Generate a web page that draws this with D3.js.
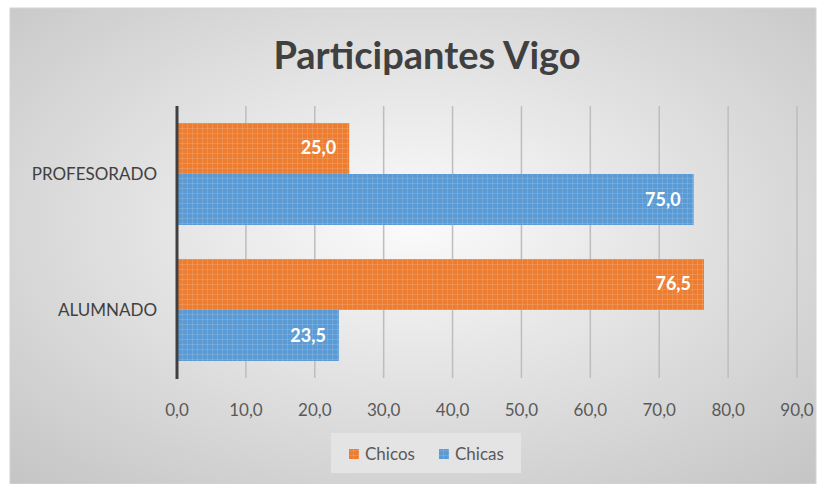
<!DOCTYPE html>
<html>
<head>
<meta charset="utf-8">
<script src="https://cdn.jsdelivr.net/npm/d3@7"></script>
<style>
  html, body { margin: 0; padding: 0; background: #fff; }
  svg { display: block; }
</style>
</head>
<body>
<svg id="chart"></svg>
<script>
var categories = ["PROFESORADO", "ALUMNADO"];
var seriesNames = ["Chicos", "Chicas"];
var chicos = [25.0, 76.5];
var chicas = [75.0, 23.5];
var xTicks = [0, 10, 20, 30, 40, 50, 60, 70, 80, 90];

var W = 825, H = 484;
var cfg = {
  left: 177, right: 797, top: 106, bottom: 378,
  colors: ["#ED7D31", "#5B9BD5"],
  font: "Lato, 'Open Sans', sans-serif"
};

var svg = d3.select("#chart").attr("width", W).attr("height", H);
var defs = svg.append("defs");

// chart background: light centre, grey edges
var grad = defs.append("radialGradient").attr("id", "bg")
  .attr("cx", "50%").attr("cy", "45%").attr("r", "75%");
grad.append("stop").attr("offset", "0%").attr("stop-color", "#fbfbfb");
grad.append("stop").attr("offset", "100%").attr("stop-color", "#c4c4c4");

svg.append("rect").attr("x", 10).attr("y", 8).attr("width", 806).attr("height", 476)
  .attr("fill", "url(#bg)").attr("stroke", "#d4d4d4").attr("stroke-width", 1);

// textured fills for the bars
cfg.colors.forEach(function(c, i) {
  var p = defs.append("pattern").attr("id", "pat" + i)
    .attr("width", 5).attr("height", 5).attr("patternUnits", "userSpaceOnUse");
  p.append("rect").attr("width", 5).attr("height", 5).attr("fill", c);
  p.append("rect").attr("x", 2).attr("y", 0).attr("width", 1).attr("height", 5)
    .attr("fill", "#fff").attr("opacity", 0.12);
  p.append("rect").attr("x", 0).attr("y", 2).attr("width", 5).attr("height", 1)
    .attr("fill", "#fff").attr("opacity", 0.12);
});

var x = d3.scaleLinear().domain([0, 90]).range([cfg.left, cfg.right]);
var y0 = d3.scaleBand().domain(categories).range([cfg.top, cfg.bottom]).padding(0);
var y1 = d3.scaleBand().domain(seriesNames)
  .range([0, y0.bandwidth()]).paddingInner(0).paddingOuter(0.333);

// title
svg.append("text")
  .attr("x", 427).attr("y", 69)
  .attr("text-anchor", "middle")
  .attr("font-family", cfg.font).attr("font-weight", "bold")
  .attr("font-size", 38).attr("fill", "#404040")
  .text("Participantes Vigo");

// gridlines
svg.append("g").selectAll("line")
  .data(xTicks.slice(1))
  .enter().append("line")
  .attr("x1", function(d) { return x(d); })
  .attr("x2", function(d) { return x(d); })
  .attr("y1", cfg.top).attr("y2", cfg.bottom)
  .attr("stroke", "#bdbdbd").attr("stroke-width", 1.5);

// x tick labels
svg.append("g").selectAll("text")
  .data(xTicks)
  .enter().append("text")
  .attr("x", function(d) { return x(d); })
  .attr("y", 416)
  .attr("text-anchor", "middle")
  .attr("font-family", cfg.font).attr("font-size", 17).attr("fill", "#595959")
  .text(function(d) { return d3.format(".1f")(d).replace(".", ","); });

// bars
var rows = categories.map(function(c, i) {
  return { cat: c, vals: [{ s: "Chicos", v: chicos[i], k: 0 }, { s: "Chicas", v: chicas[i], k: 1 }] };
});

var groups = svg.append("g").selectAll("g")
  .data(rows).enter().append("g")
  .attr("transform", function(d) { return "translate(0," + y0(d.cat) + ")"; });

groups.selectAll("rect")
  .data(function(d) { return d.vals; })
  .enter().append("rect")
  .attr("x", x(0))
  .attr("y", function(d) { return y1(d.s); })
  .attr("width", function(d) { return x(d.v) - x(0); })
  .attr("height", y1.bandwidth())
  .attr("fill", function(d) { return "url(#pat" + d.k + ")"; });

groups.selectAll("text")
  .data(function(d) { return d.vals; })
  .enter().append("text")
  .attr("x", function(d) { return x(d.v) - 13; })
  .attr("y", function(d) { return y1(d.s) + y1.bandwidth() / 2 + 6; })
  .attr("text-anchor", "end")
  .attr("font-family", cfg.font).attr("font-weight", "bold")
  .attr("font-size", 18).attr("fill", "#fff")
  .text(function(d) { return d3.format(".1f")(d.v).replace(".", ","); });

// category axis
svg.append("line")
  .attr("x1", x(0)).attr("x2", x(0))
  .attr("y1", cfg.top).attr("y2", cfg.bottom + 1)
  .attr("stroke", "#404040").attr("stroke-width", 3);

svg.append("g").selectAll("text")
  .data(categories)
  .enter().append("text")
  .attr("x", 157)
  .attr("y", function(d) { return y0(d) + y0.bandwidth() / 2 + 6; })
  .attr("text-anchor", "end")
  .attr("font-family", cfg.font).attr("font-size", 17).attr("fill", "#404040")
  .text(function(d) { return d; });

// legend
var lg = svg.append("g").attr("transform", "translate(331,433)");
lg.append("rect").attr("width", 190).attr("height", 40).attr("fill", "#e4e4e4");
var items = [{ s: "Chicos", k: 0, x: 18 }, { s: "Chicas", k: 1, x: 108 }];
items.forEach(function(it) {
  lg.append("rect").attr("x", it.x).attr("y", 16).attr("width", 10).attr("height", 10)
    .attr("fill", "url(#pat" + it.k + ")");
  lg.append("text").attr("x", it.x + 16).attr("y", 27)
    .attr("font-family", cfg.font).attr("font-size", 17).attr("fill", "#595959")
    .text(it.s);
});
</script>
</body>
</html>
